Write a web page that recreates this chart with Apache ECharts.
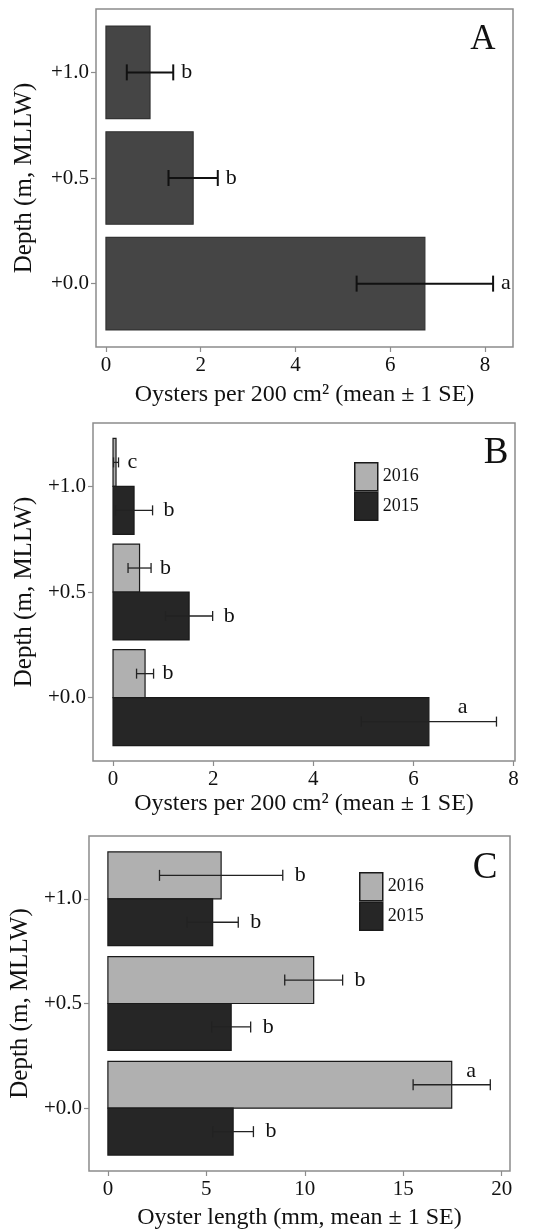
<!DOCTYPE html>
<html>
<head>
<meta charset="utf-8">
<script src="https://cdn.jsdelivr.net/npm/echarts@6/dist/echarts.min.js"></script>
<style>
html,body{margin:0;padding:0;background:#fff;}
#chart{width:537px;height:1232px;}
</style>
</head>
<body>
<div id="chart"></div>
<script>
// ---------- DATA ----------
const depths = [0, 0.5, 1.0];
const depthLabels = ['+0.0', '+0.5', '+1.0'];
const years = ['2016', '2015'];

// Panel A: oyster density, all years
const aMean = [6.73, 1.84, 0.93];
const aSE = [1.44, 0.52, 0.49];
const aLetters = ['a', 'b', 'b'];
const aTicks = [0, 2, 4, 6, 8];

// Panel B: oyster density by year
const b2016Mean = [0.64, 0.53, 0.06];
const b2016SE = [0.17, 0.23, 0.05];
const b2016Letters = ['b', 'b', 'c'];
const b2015Mean = [6.31, 1.52, 0.42];
const b2015SE = [1.35, 0.47, 0.37];
const b2015Letters = ['a', 'b', 'b'];
const bTicks = [0, 2, 4, 6, 8];

// Panel C: oyster length by year
const c2016Mean = [17.46, 10.45, 5.75];
const c2016SE = [1.96, 1.47, 3.13];
const c2016Letters = ['a', 'b', 'b'];
const c2015Mean = [6.36, 6.26, 5.32];
const c2015SE = [1.03, 0.99, 1.30];
const c2015Letters = ['b', 'b', 'b'];
const cTicks = [0, 5, 10, 15, 20];

// ---------- STYLE ----------
const FONT = '"Liberation Serif", "Times New Roman", serif';
const TXT = '#111';
const FRAME = '#8c8c8c';
const DARK_A = '#454545';
const DARK = '#262626';
const LIGHT = '#b0b0b0';

const chart = echarts.init(document.getElementById('chart'));

function pairs(means) { return means.map((m, i) => [m, depths[i]]); }

function barRender(offset, thick, stroke) {
  return function (params, api) {
    const v = api.value(0), d = api.value(1);
    const p0 = api.coord([0, d + offset]);
    const p1 = api.coord([v, d + offset]);
    const h = api.size([0, thick])[1];
    return {
      type: 'rect',
      shape: { x: p0[0], y: p0[1] - h / 2, width: p1[0] - p0[0], height: h },
      style: { fill: api.visual('color'), stroke: stroke, lineWidth: 1.2 }
    };
  };
}

function errRender(ses, letters, offset, opts) {
  return function (params, api) {
    const i = params.dataIndex;
    const m = api.value(0), d = api.value(1) + offset, se = ses[i];
    const lo = api.coord([m - se, d]);
    const hi = api.coord([m + se, d]);
    const mid = api.coord([m, d]);
    const c = opts.cap;
    const ls = { stroke: opts.color, lineWidth: opts.lw };
    const children = [
      { type: 'line', shape: { x1: lo[0], y1: lo[1], x2: hi[0], y2: hi[1] }, style: ls },
      { type: 'line', shape: { x1: lo[0], y1: lo[1] - c, x2: lo[0], y2: lo[1] + c }, style: ls },
      { type: 'line', shape: { x1: hi[0], y1: hi[1] - c, x2: hi[0], y2: hi[1] + c }, style: ls }
    ];
    const above = (opts.above || []).indexOf(i) >= 0;
    children.push({
      type: 'text',
      x: above ? (mid[0] + hi[0]) / 2 : hi[0] + opts.gap,
      y: above ? hi[1] - 14 : hi[1],
      style: {
        text: letters[i], font: '22px ' + FONT, fill: TXT,
        textAlign: above ? 'center' : 'left', textVerticalAlign: 'middle'
      }
    });
    return { type: 'group', children: children };
  };
}

function xAxis(gi, min, max, ticks, name, gap) {
  return {
    type: 'value', gridIndex: gi, min: min, max: max,
    splitLine: { show: false },
    axisLine: { show: false, onZero: false },
    axisTick: { show: true, length: 5, customValues: ticks, lineStyle: { color: FRAME, width: 1.2 } },
    axisLabel: { customValues: ticks, margin: 8, fontFamily: FONT, fontSize: 21, color: TXT },
    name: name, nameLocation: 'middle', nameGap: gap,
    nameTextStyle: { fontFamily: FONT, fontSize: 24, color: TXT }
  };
}
function yAxis(gi, gap) {
  return {
    type: 'value', gridIndex: gi, min: -0.3, max: 1.3,
    splitLine: { show: false },
    axisLine: { show: false, onZero: false },
    axisTick: { show: true, length: 5, customValues: depths, lineStyle: { color: FRAME, width: 1.2 } },
    axisLabel: {
      customValues: depths, margin: 7, fontFamily: FONT, fontSize: 21, color: TXT,
      formatter: v => depthLabels[depths.indexOf(Math.round(v * 10) / 10)] || ''
    },
    name: 'Depth (m, MLLW)', nameLocation: 'middle', nameGap: gap, nameRotate: 90,
    nameTextStyle: { fontFamily: FONT, fontSize: 25, color: TXT }
  };
}
function grid(l, t, w, h) {
  return { left: l, top: t, width: w, height: h, show: true, borderColor: FRAME, borderWidth: 1.5, backgroundColor: 'transparent' };
}

const xNameDensity = 'Oysters per 200 cm² (mean ± 1 SE)';
const xNameLength = 'Oyster length (mm, mean ± 1 SE)';

const option = {
  animation: false,
  backgroundColor: '#fff',
  grid: [grid(96, 9, 417, 338), grid(93, 423, 422, 338), grid(88, 836, 422, 335)],
  xAxis: [
    xAxis(0, -0.21, 8.59, aTicks, xNameDensity, 36),
    xAxis(1, -0.4, 8.03, bTicks, xNameDensity, 31),
    xAxis(2, -0.96, 20.42, cTicks, xNameLength, 35)
  ],
  yAxis: [yAxis(0, 59), yAxis(1, 56), yAxis(2, 53)],
  legend: [
    {
      orient: 'vertical', left: 349, top: 457, itemWidth: 23, itemHeight: 28, itemGap: 0,
      icon: 'rect', data: years,
      itemStyle: { borderColor: '#1a1a1a', borderWidth: 1.5 },
      textStyle: { fontFamily: FONT, fontSize: 18, color: TXT }
    },
    {
      orient: 'vertical', left: 354, top: 867, itemWidth: 23, itemHeight: 28, itemGap: 0,
      icon: 'rect', data: years,
      itemStyle: { borderColor: '#1a1a1a', borderWidth: 1.5 },
      textStyle: { fontFamily: FONT, fontSize: 18, color: TXT }
    }
  ],
  graphic: [
    { type: 'text', x: 483, y: 40, style: { text: 'A', font: '35px ' + FONT, fill: TXT, textAlign: 'center', textVerticalAlign: 'middle' } },
    { type: 'text', x: 496, y: 453, style: { text: 'B', font: '37px ' + FONT, fill: TXT, textAlign: 'center', textVerticalAlign: 'middle' } },
    { type: 'text', x: 485, y: 868, style: { text: 'C', font: '37px ' + FONT, fill: TXT, textAlign: 'center', textVerticalAlign: 'middle' } }
  ],
  series: [
    // Panel A
    { type: 'custom', name: 'all', xAxisIndex: 0, yAxisIndex: 0, itemStyle: { color: DARK_A },
      data: pairs(aMean), renderItem: barRender(0, 0.438, '#333') },
    { type: 'custom', xAxisIndex: 0, yAxisIndex: 0, z: 5, data: pairs(aMean),
      renderItem: errRender(aSE, aLetters, 0, { cap: 8, lw: 2, color: '#111', gap: 8 }) },
    // Panel B
    { type: 'custom', name: '2016', xAxisIndex: 1, yAxisIndex: 1, itemStyle: { color: LIGHT, borderColor: '#1a1a1a' },
      data: pairs(b2016Mean), renderItem: barRender(0.1135, 0.227, '#1a1a1a') },
    { type: 'custom', name: '2015', xAxisIndex: 1, yAxisIndex: 1, itemStyle: { color: DARK, borderColor: '#1a1a1a' },
      data: pairs(b2015Mean), renderItem: barRender(-0.1135, 0.227, '#1a1a1a') },
    { type: 'custom', xAxisIndex: 1, yAxisIndex: 1, z: 5, data: pairs(b2016Mean),
      renderItem: errRender(b2016SE, b2016Letters, 0.1135, { cap: 5, lw: 1.3, color: '#222', gap: 9 }) },
    { type: 'custom', xAxisIndex: 1, yAxisIndex: 1, z: 5, data: pairs(b2015Mean),
      renderItem: errRender(b2015SE, b2015Letters, -0.1135, { cap: 5, lw: 1.3, color: '#222', gap: 11, above: [0] }) },
    // Panel C
    { type: 'custom', name: '2016', xAxisIndex: 2, yAxisIndex: 2, itemStyle: { color: LIGHT, borderColor: '#1a1a1a' },
      data: pairs(c2016Mean), renderItem: barRender(0.112, 0.224, '#1a1a1a') },
    { type: 'custom', name: '2015', xAxisIndex: 2, yAxisIndex: 2, itemStyle: { color: DARK, borderColor: '#1a1a1a' },
      data: pairs(c2015Mean), renderItem: barRender(-0.112, 0.224, '#1a1a1a') },
    { type: 'custom', xAxisIndex: 2, yAxisIndex: 2, z: 5, data: pairs(c2016Mean),
      renderItem: errRender(c2016SE, c2016Letters, 0.112, { cap: 5.5, lw: 1.3, color: '#222', gap: 12, above: [0] }) },
    { type: 'custom', xAxisIndex: 2, yAxisIndex: 2, z: 5, data: pairs(c2015Mean),
      renderItem: errRender(c2015SE, c2015Letters, -0.112, { cap: 5.5, lw: 1.3, color: '#222', gap: 12 }) }
  ]
};
chart.setOption(option);
</script>
</body>
</html>
